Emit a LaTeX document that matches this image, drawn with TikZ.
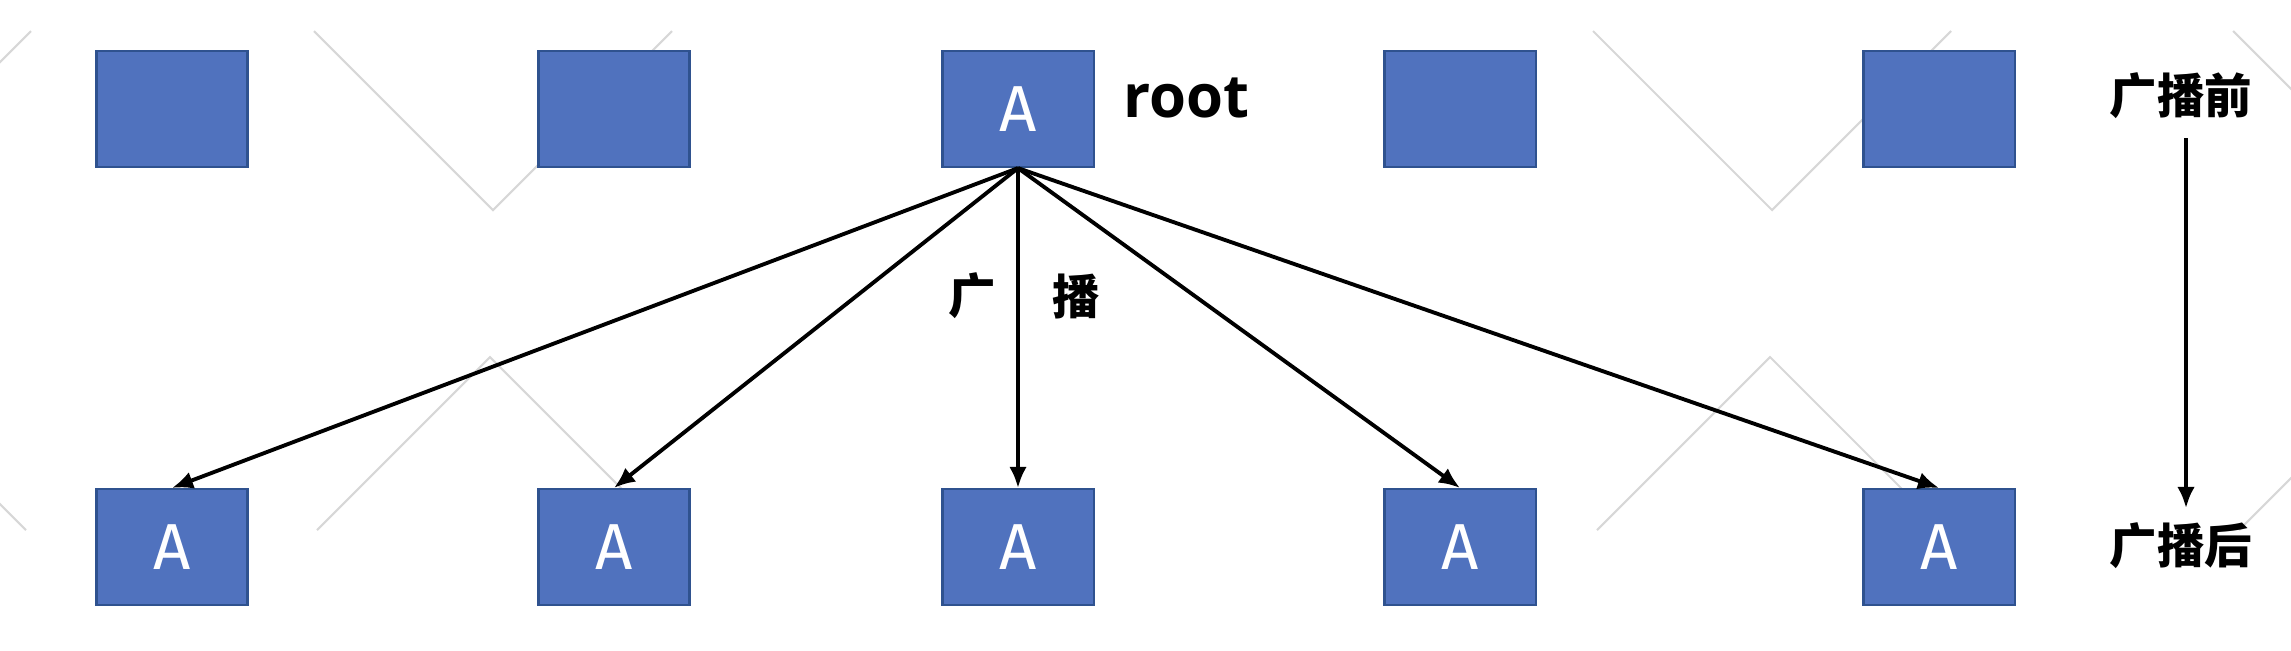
\documentclass[tikz,border=0pt]{standalone}
\usepackage{fontspec}
\setmainfont{Open Sans}
\newfontfamily\cjk{Noto Sans CJK SC}
\newfontfamily\letterfont{Fira Sans}
\usetikzlibrary{arrows.meta,positioning}
\definecolor{boxfill}{RGB}{80,114,190}
\definecolor{boxline}{RGB}{47,82,143}
\definecolor{bggray}{RGB}{215,215,215}

\begin{document}
\begin{tikzpicture}[->,>={Latex[length=6pt,width=5pt]},x=0.01cm,y=-0.01cm,
                    line width=1.1pt]
    \tikzstyle{box}=[draw=boxline,line width=0.6pt,fill=boxfill,minimum
    width=1.51cm,minimum height=1.16cm,inner sep=0pt,text=white,
    font=\letterfont\fontsize{18.5}{20}\selectfont]
    \tikzstyle{bgline}=[-,draw=bggray,line width=0.6pt]
    \tikzstyle{zh}=[font=\cjk\bfseries\fontsize{13.5}{15}\selectfont,inner sep=0pt]

    \clip (0,0) rectangle (2291,650);
    % faint background zigzag
    \foreach \p in {-148,493,1772,2412} \draw[bgline] ({\p-179},31) -- (\p,210) -- ({\p+179},31);
    \foreach \p in {-147,490,1770,2412} \draw[bgline] ({\p-173},530) -- (\p,357) -- ({\p+173},530);

    \node[box] (t1) at (172,109) {}; \node[box] (t2) at (614,109) {};
    \node[box] (t3) at (1018,109) {A}; \node[box] (t4) at (1460,109) {};
    \node[box] (t5) at (1939,109) {};

    \node[box] (b1) at (172,547) {A}; \node[box] (b2) at (614,547) {A};
    \node[box] (b3) at (1018,547) {A}; \node[box] (b4) at (1460,547) {A};
    \node[box] (b5) at (1939,547) {A};

    \node[font=\bfseries\fontsize{17}{20}\selectfont,anchor=base west,inner
    sep=0pt] (rootlbl) at (1122,117) {root};

    \node[zh] (guang) at (972,296) {广}; \node[zh] (bo) at (1076,296) {播};

    \path (t3.south) edge (b1.north) (t3.south) edge (b2.north) (t3.south)
    edge (b3.north) (t3.south) edge (b4.north) (t3.south) edge (b5.north);

    \node[zh] (pre) at (2181,96) {广播前}; \node[zh] (post) at (2181,546)
    {广播后};
    \draw[shorten <=0.17cm,shorten >=0.13cm] ([xshift=0.05cm]pre.south) --
    ([xshift=0.05cm]post.north);

\end{tikzpicture}
\end{document}
